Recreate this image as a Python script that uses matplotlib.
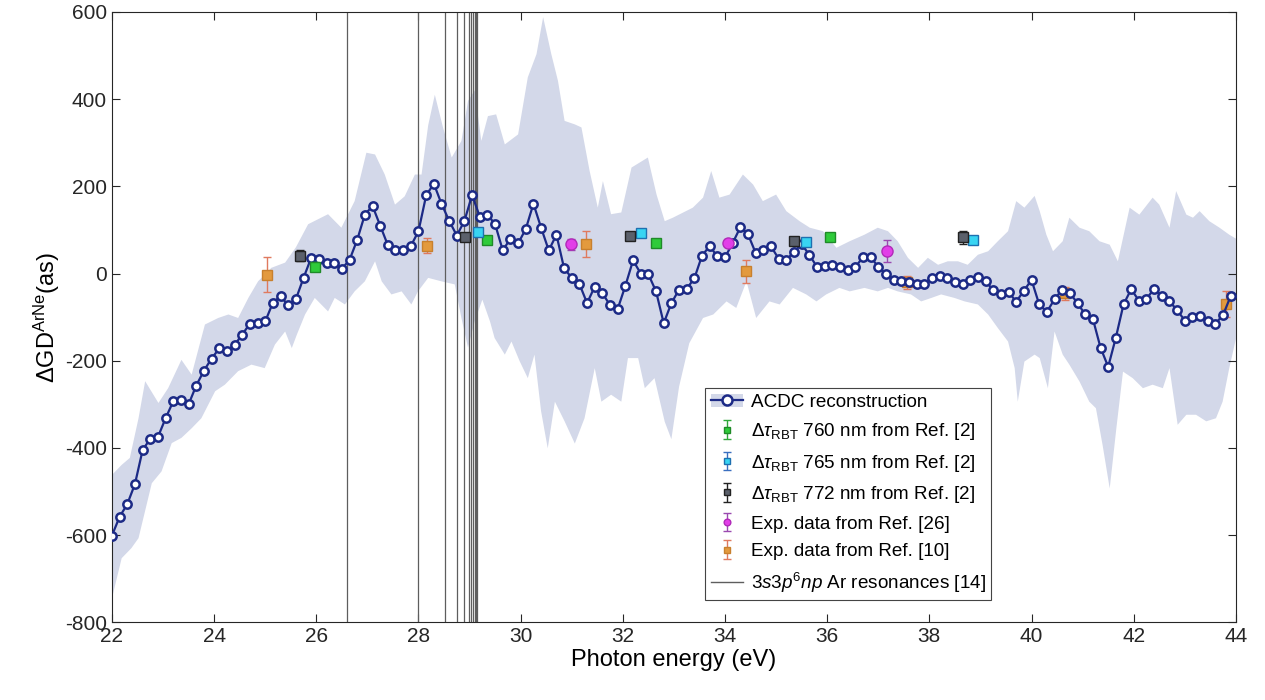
import numpy as np
import matplotlib
matplotlib.use('Agg')
from matplotlib import pyplot as plt
from matplotlib.patches import Patch
from matplotlib.lines import Line2D

plt.rcParams['font.family'] = ['Liberation Sans', 'DejaVu Sans']
plt.rcParams['mathtext.fontset'] = 'custom'
plt.rcParams['mathtext.rm'] = 'Liberation Sans'
plt.rcParams['mathtext.it'] = 'Liberation Sans:italic'
plt.rcParams['axes.unicode_minus'] = False

# ACDC reconstruction on the photon energy grid (22 ... 43.9 eV, 0.15 eV step)
energy = np.linspace(22.0, 43.9, 147)
acdc = [-601, -558, -529, -483, -405, -379, -375, -332, -293, -290,
        -300, -257, -223, -195, -172, -177, -164, -140, -115, -113,
        -110, -67, -52, -73, -59, -10, 36, 34, 23, 23,
        11, 31, 77, 135, 155, 110, 65, 53, 55, 63,
        97, 179, 206, 160, 121, 87, 121, 180, 130, 135,
        113, 53, 80, 69, 102, 160, 105, 53, 89, 12,
        -10, -24, -68, -30, -45, -73, -81, -28, 30, 0,
        -2, -41, -114, -68, -37, -35, -11, 41, 63, 39,
        37, 70, 106, 90, 47, 55, 62, 34, 31, 50,
        67, 43, 15, 18, 20, 15, 7, 15, 37, 38,
        15, -1, -15, -18, -19, -25, -23, -10, -5, -10,
        -19, -25, -15, -8, -18, -38, -47, -42, -65, -39,
        -15, -71, -88, -59, -37, -45, -68, -94, -104, -170,
        -214, -147, -71, -36, -62, -58, -35, -52, -64, -84,
        -108, -100, -97, -110, -115, -95, -51]

# uncertainty band, upper and lower edges
up_e = [22.0, 22.19, 22.35, 22.52, 22.65, 22.91, 23.1, 23.36, 23.56, 23.82,
        24.08, 24.28, 24.47, 24.67, 24.86, 25.12, 25.39, 25.6, 25.84, 26.23,
        26.49, 26.75, 26.98, 27.15, 27.34, 27.54, 27.73, 27.93, 28.06, 28.19,
        28.32, 28.48, 28.65, 28.84, 28.97, 29.1, 29.23, 29.36, 29.52, 29.69,
        29.95, 30.14, 30.31, 30.44, 30.6, 30.73, 30.86, 31.06, 31.19, 31.35,
        31.51, 31.61, 31.77, 31.97, 32.17, 32.49, 32.66, 32.82, 32.98, 33.37,
        33.57, 33.73, 33.89, 34.09, 34.35, 34.55, 34.74, 35.0, 35.2, 35.46,
        35.66, 35.92, 36.18, 36.44, 36.73, 36.99, 37.19, 37.38, 37.58, 37.78,
        37.97, 38.17, 38.36, 38.56, 38.75, 38.95, 39.15, 39.34, 39.54, 39.7,
        39.86, 40.06, 40.16, 40.29, 40.42, 40.61, 40.74, 40.94, 41.13, 41.33,
        41.53, 41.69, 41.92, 42.11, 42.37, 42.5, 42.7, 42.83, 43.03, 43.16,
        43.29, 43.48, 43.68, 43.87, 44.0]
up_v = [-462, -439, -423, -332, -247, -297, -263, -198, -232, -117,
        -102, -94, -102, -56, -18, 13, 25, 60, 113, 136,
        105, 166, 277, 273, 227, 158, 177, 227, 227, 340,
        410, 335, 266, 304, 396, 420, 304, 361, 365, 296,
        319, 450, 503, 588, 503, 442, 350, 342, 335, 235,
        151, 212, 136, 140, 243, 266, 181, 120, 128, 151,
        174, 235, 174, 181, 227, 204, 166, 181, 143, 120,
        105, 97, 59, 74, 89, 105, 97, 74, 36, 13,
        36, 20, 28, 28, 20, 43, 51, 74, 97, 166,
        151, 178, 143, 89, 51, 74, 128, 105, 97, 74,
        66, 28, 151, 135, 174, 158, 105, 189, 135, 128,
        143, 120, 105, 89, 80]

lo_e = [22.0, 22.19, 22.38, 22.52, 22.78, 22.97, 23.17, 23.36, 23.56, 23.75,
        24.02, 24.21, 24.47, 24.73, 24.99, 25.19, 25.39, 25.52, 25.62, 25.78,
        25.97, 26.23, 26.36, 26.56, 26.75, 26.95, 27.15, 27.28, 27.47, 27.67,
        27.86, 27.99, 28.19, 28.45, 28.71, 28.84, 28.97, 29.1, 29.25, 29.4,
        29.49, 29.69, 29.82, 29.98, 30.14, 30.27, 30.4, 30.53, 30.67, 30.86,
        31.06, 31.25, 31.45, 31.58, 31.77, 31.97, 32.1, 32.3, 32.43, 32.62,
        32.82, 32.95, 33.1, 33.3, 33.57, 33.77, 34.03, 34.22, 34.42, 34.61,
        34.87, 35.07, 35.33, 35.59, 35.79, 35.98, 36.24, 36.44, 36.73, 36.99,
        37.19, 37.38, 37.64, 37.84, 38.04, 38.23, 38.49, 38.69, 38.95, 39.15,
        39.34, 39.54, 39.67, 39.73, 39.86, 40.06, 40.16, 40.32, 40.45, 40.61,
        40.74, 40.94, 41.13, 41.26, 41.39, 41.53, 41.66, 41.79, 41.98, 42.18,
        42.37, 42.57, 42.7, 42.86, 43.03, 43.22, 43.42, 43.61, 43.74, 43.87,
        44.0]
lo_v = [-745, -653, -630, -607, -481, -454, -389, -377, -355, -332,
        -270, -255, -224, -209, -217, -163, -133, -171, -140, -94,
        -56, -87, -56, -71, -41, -18, 28, -18, -48, -41,
        -71, -41, -10, -18, -25, -102, -170, -110, -60, -110,
        -148, -186, -156, -201, -240, -186, -316, -401, -294, -339,
        -390, -332, -217, -294, -278, -294, -194, -194, -263, -240,
        -340, -380, -260, -160, -102, -94, -64, -79, -18, -102,
        -64, -71, -33, -48, -64, -48, -33, -41, -33, -41,
        -33, -41, -48, -64, -56, -48, -56, -64, -71, -94,
        -125, -156, -217, -294, -202, -186, -194, -263, -133, -186,
        -209, -248, -294, -309, -393, -493, -355, -225, -240, -263,
        -255, -263, -217, -347, -324, -324, -339, -332, -294, -217,
        -150]

# RBT delays from Ref. [2]
rbt760_e = [25.97, 29.34, 32.65, 36.05]
rbt760_v = [16, 77, 71, 84]
rbt760_err = [10, 8, 8, 8]
rbt765_e = [29.16, 32.36, 35.59, 38.86]
rbt765_v = [95, 92, 72, 77]
rbt765_err = [8, 8, 8, 8]
rbt772_e = [25.69, 28.91, 32.14, 35.36, 38.65]
rbt772_v = [41, 83, 87, 75, 83]
rbt772_err = [12, 8, 8, 8, 15]

# experimental data
ref26_e = [30.98, 34.06, 37.17]
ref26_v = [67, 70, 52]
ref26_err = [12, 8, 25]
ref10_e = [25.04, 28.16, 31.28, 34.42, 37.56, 40.66, 43.8]
ref10_v = [-3, 64, 67, 5, -20, -45, -70]
ref10_err = [40, 18, 30, 27, 15, 15, 30]

# 3s3p6np Ar resonances
res_e = [26.61, 27.99, 28.51, 28.76, 28.90, 28.98, 29.03, 29.07, 29.10, 29.12, 29.14]

fig = plt.figure(figsize=(12.65, 7), dpi=100)
ax = fig.add_axes([0.0885, 0.111, 0.8885, 0.872])

band_col = '#d3d8e9'
navy = '#1c2a86'
ax.fill(np.r_[up_e, lo_e[::-1]], np.r_[up_v, lo_v[::-1]],
        color=band_col, lw=0, zorder=1)
for e in res_e:
    ax.axvline(e, color='#5e5e5e', lw=0.9, zorder=2)

eb10 = ax.errorbar(ref10_e, ref10_v, yerr=ref10_err, fmt='s', ms=7,
                   mfc='#e39a3e', mec='#c8802e', ecolor='#e07a5f',
                   elinewidth=1, capsize=3, zorder=3)
ax.plot(energy, acdc, '-o', color=navy, lw=1.6, ms=6, mfc='white',
        mec=navy, mew=1.8, zorder=4)

eb760 = ax.errorbar(rbt760_e, rbt760_v, yerr=rbt760_err, fmt='s', ms=7,
                    mfc='#2fcb3a', mec='#1f8a28', ecolor='#2fa83a',
                    elinewidth=1, capsize=3, zorder=5)
eb765 = ax.errorbar(rbt765_e, rbt765_v, yerr=rbt765_err, fmt='s', ms=7,
                    mfc='#38d4f2', mec='#1e70b0', ecolor='#3a6fc0',
                    elinewidth=1, capsize=3, zorder=5)
eb772 = ax.errorbar(rbt772_e, rbt772_v, yerr=rbt772_err, fmt='s', ms=7,
                    mfc='#5b606b', mec='#222222', ecolor='#222222',
                    elinewidth=1, capsize=3, zorder=5)
eb26 = ax.errorbar(ref26_e, ref26_v, yerr=ref26_err, fmt='o', ms=8,
                   mfc='#e23ee8', mec='#b02ab8', ecolor='#9a4ab0',
                   elinewidth=1, capsize=3, zorder=5)

ax.set_xlim(22, 44)
ax.set_ylim(-800, 600)
ax.set_xticks(range(22, 45, 2))
ax.set_yticks(range(-800, 601, 200))
ax.tick_params(direction='in', length=6, width=0.8, labelsize=15,
               top=True, right=True, colors='#262626')
for s in ax.spines.values():
    s.set_color('#262626')
    s.set_linewidth(0.8)
ax.set_xlabel('Photon energy (eV)', fontsize=17, labelpad=2)
ax.set_ylabel(r'$\Delta$GD$^{\mathrm{ArNe}}$(as)', fontsize=17, labelpad=2)

acdc_h = (Patch(facecolor=band_col, edgecolor='none'),
          Line2D([], [], color=navy, lw=1.6, marker='o', ms=12, mfc='white',
                 mec=navy, mew=1.8))
res_h = Line2D([], [], color='#5e5e5e', lw=1.0)
handles = [acdc_h, eb760, eb765, eb772, eb26, eb10, res_h]
labels = ['ACDC reconstruction',
          r'$\Delta\tau_{\mathrm{RBT}}$ 760 nm from Ref. [2]',
          r'$\Delta\tau_{\mathrm{RBT}}$ 765 nm from Ref. [2]',
          r'$\Delta\tau_{\mathrm{RBT}}$ 772 nm from Ref. [2]',
          'Exp. data from Ref. [26]',
          'Exp. data from Ref. [10]',
          r'3$s$3$p^6$$np$ Ar resonances [14]']
leg = ax.legend(handles, labels, loc='lower left',
                bbox_to_anchor=(0.528, 0.036), borderaxespad=0,
                fontsize=13.6, markerscale=0.6,
                fancybox=False, edgecolor='#444444', framealpha=1,
                handlelength=1.7, handletextpad=0.4, borderpad=0.3,
                labelspacing=0.55)
leg.get_frame().set_linewidth(0.8)
leg.set_zorder(10)

fig.savefig('out.png', dpi=100)
